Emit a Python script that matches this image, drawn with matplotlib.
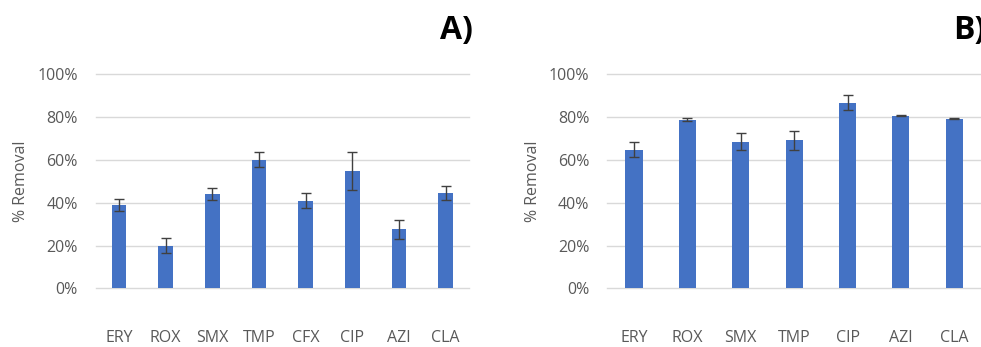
import matplotlib
matplotlib.use("Agg")
import matplotlib.pyplot as plt
from matplotlib.ticker import PercentFormatter

cats_a = ["ERY", "ROX", "SMX", "TMP", "CFX", "CIP", "AZI", "CLA"]
vals_a = [0.39, 0.20, 0.44, 0.60, 0.41, 0.55, 0.276, 0.444]
errs_a = [0.028, 0.036, 0.027, 0.035, 0.035, 0.089, 0.044, 0.032]

cats_b = ["ERY", "ROX", "SMX", "TMP", "CIP", "AZI", "CLA"]
vals_b = [0.648, 0.788, 0.685, 0.692, 0.868, 0.807, 0.793]
errs_b = [0.034, 0.008, 0.040, 0.045, 0.037, 0.004, 0.003]

yticks = [0, 0.2, 0.4, 0.6, 0.8, 1.0]

W, H = 981, 347
fig = plt.figure(figsize=(W / 100, H / 100), dpi=100)
FONT = "Open Sans"
GRAY = "#595959"
BAR = "#4472C4"

def panel(rect, cats, vals, errs, label_x):
    ax = fig.add_axes(rect)
    x = range(len(cats))
    ax.bar(x, vals, width=0.32, color=BAR, yerr=errs, zorder=3,
           error_kw=dict(ecolor="#404040", elinewidth=1.0, capsize=3.5, capthick=1.0))
    ax.set_xlim(-0.5, len(cats) - 0.5)
    ax.set_ylim(0, 1.0)
    ax.set_yticks(yticks)
    ax.yaxis.set_major_formatter(PercentFormatter(1.0, decimals=0))
    ax.set_xticks(list(x))
    ax.set_xticklabels(cats)
    for s in ax.spines.values():
        s.set_visible(False)
    ax.tick_params(axis="both", length=0, colors=GRAY, labelsize=11.5)
    ax.tick_params(axis="y", pad=13)
    ax.tick_params(axis="x", pad=30)
    for t in ax.get_xticklabels() + ax.get_yticklabels():
        t.set_fontfamily(FONT)
    for yv in yticks:
        ax.axhline(yv, color="#d9d9d9", lw=1.0, zorder=1, clip_on=False)
    ax.set_ylabel("% Removal", fontfamily=FONT, fontsize=11.5, color=GRAY)
    ax.yaxis.set_label_coords(label_x, 0.5)
    return ax

bottom = 1 - 288.3 / H
height = (288.3 - 74.3) / H
panel([95.7 / W, bottom, (469 - 95.7) / W, height], cats_a, vals_a, errs_a, -0.180)
panel([607.3 / W, bottom, (981 - 607.3) / W, height], cats_b, vals_b, errs_b, -0.177)

fig.text(473 / W, 1 - 30 / H, "A)", fontfamily=FONT, fontweight="bold", fontsize=23,
         ha="right", va="center", color="black")
fig.text(953 / W, 1 - 30 / H, "B)", fontfamily=FONT, fontweight="bold", fontsize=23,
         ha="left", va="center", color="black")

fig.savefig("out.png", dpi=100, facecolor="white")
